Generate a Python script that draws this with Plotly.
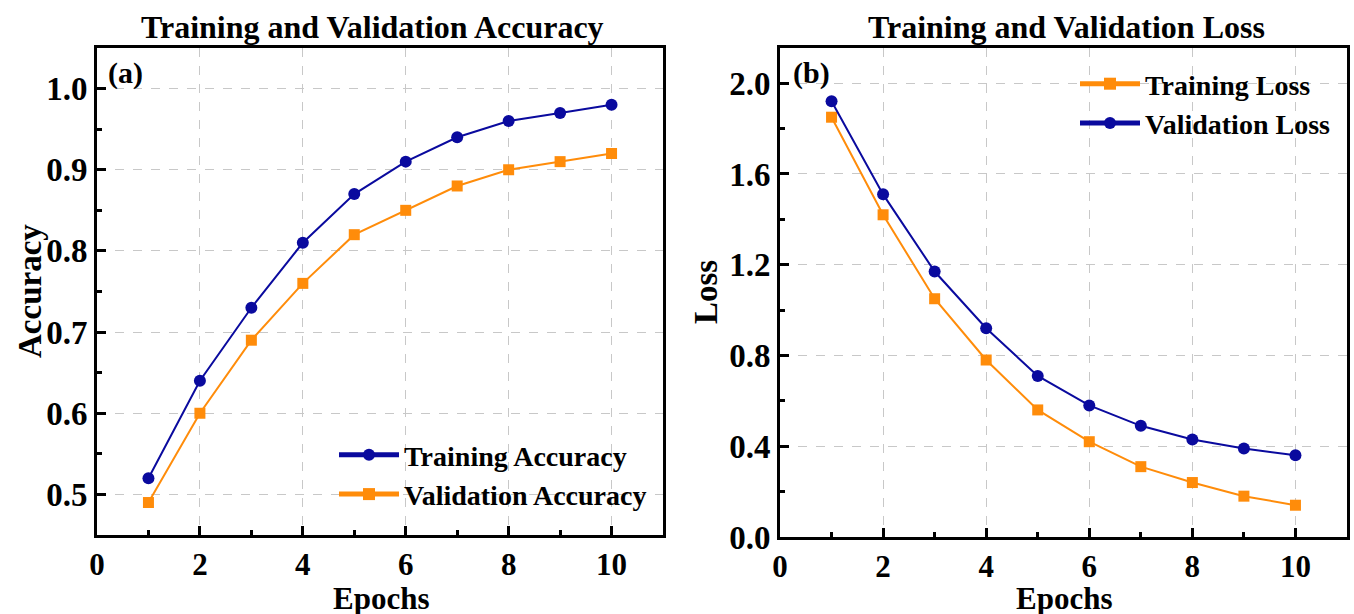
import plotly.graph_objects as go

epochs = [1, 2, 3, 4, 5, 6, 7, 8, 9, 10]
train_acc = [0.52, 0.64, 0.73, 0.81, 0.87, 0.91, 0.94, 0.96, 0.97, 0.98]
val_acc = [0.49, 0.60, 0.69, 0.76, 0.82, 0.85, 0.88, 0.90, 0.91, 0.92]
train_loss = [1.85, 1.42, 1.05, 0.78, 0.56, 0.42, 0.31, 0.24, 0.18, 0.14]
val_loss = [1.92, 1.51, 1.17, 0.92, 0.71, 0.58, 0.49, 0.43, 0.39, 0.36]

BLUE = "#0A0A9E"
ORANGE = "#FF8C0A"
FONT = "Liberation Serif"

fig = go.Figure()
fig.add_trace(go.Scatter(x=epochs, y=train_acc, name="Training Accuracy", mode="lines+markers",
                         line=dict(color=BLUE, width=2), marker=dict(symbol="circle", size=12, color=BLUE),
                         xaxis="x", yaxis="y", legend="legend"))
fig.add_trace(go.Scatter(x=epochs, y=val_acc, name="Validation Accuracy", mode="lines+markers",
                         line=dict(color=ORANGE, width=2), marker=dict(symbol="square", size=11, color=ORANGE),
                         xaxis="x", yaxis="y", legend="legend"))
fig.add_trace(go.Scatter(x=epochs, y=train_loss, name="Training Loss", mode="lines+markers",
                         line=dict(color=ORANGE, width=2), marker=dict(symbol="square", size=11, color=ORANGE),
                         xaxis="x2", yaxis="y2", legend="legend2"))
fig.add_trace(go.Scatter(x=epochs, y=val_loss, name="Validation Loss", mode="lines+markers",
                         line=dict(color=BLUE, width=2), marker=dict(symbol="circle", size=12, color=BLUE),
                         xaxis="x2", yaxis="y2", legend="legend2"))

# page body margin is removed below, so figure pixels == page pixels
W, H = 1354, 614
def px(xp):
    return min(1.0, max(0.0, xp / W))
def py(yp):
    return min(1.0, max(0.0, 1 - yp / H))

axis_common = dict(
    showline=True, linecolor="black", linewidth=3, mirror=True,
    ticks="inside", ticklen=9, tickwidth=3, tickcolor="black",
    showgrid=True, gridcolor="#C8C8C8", griddash="dash", gridwidth=1.2,
    zeroline=False, automargin=False,
    tickfont=dict(family=FONT, size=33, color="black", weight="bold"),
)
minor_x = dict(ticks="inside", ticklen=5, tickwidth=2.5, tickcolor="black", dtick=1, showgrid=False)
xtickfont = dict(family=FONT, size=31, color="black", weight="bold")

def ann(text, x, y, size=33, angle=0, xanchor="center"):
    return dict(text=text, x=px(x), y=py(y), xref="paper", yref="paper", showarrow=False,
                xanchor=xanchor, yanchor="middle", textangle=angle,
                font=dict(family=FONT, size=size, color="black", weight="bold"))

xcommon = {k: v for k, v in axis_common.items() if k != "tickfont"}

fig.update_layout(
    width=W, height=H,
    margin=dict(l=0, r=0, t=0, b=0, autoexpand=False),
    plot_bgcolor="white", paper_bgcolor="white",
    showlegend=True,
    xaxis=dict(domain=[px(97), px(663)], range=[0, 11], dtick=2, tick0=0, anchor="y",
               minor=minor_x, tickfont=xtickfont, **xcommon),
    yaxis=dict(domain=[py(535), py(48)], range=[0.45, 1.05], dtick=0.1, tick0=0.5, tickformat=".1f", anchor="x",
               minor=dict(ticks="inside", ticklen=5, tickwidth=2.5, tickcolor="black", dtick=0.05, showgrid=False),
               **axis_common),
    xaxis2=dict(domain=[px(780), px(1347)], range=[0, 11], dtick=2, tick0=0, anchor="y2",
                minor=minor_x, tickfont=xtickfont, **xcommon),
    yaxis2=dict(domain=[py(537), py(48)], range=[0, 2.155], dtick=0.4, tick0=0, tickformat=".1f", anchor="x2",
                minor=dict(ticks="inside", ticklen=5, tickwidth=2.5, tickcolor="black", dtick=0.2, showgrid=False),
                **axis_common),
    legend=dict(x=px(334), y=py(430), xanchor="left", yanchor="top", bgcolor="rgba(0,0,0,0)",
                font=dict(family=FONT, size=28, color="black", weight="bold"), tracegroupgap=0,
                itemsizing="constant", itemwidth=60),
    legend2=dict(x=px(1075), y=py(59), xanchor="left", yanchor="top", bgcolor="rgba(0,0,0,0)",
                 font=dict(family=FONT, size=28, color="black", weight="bold"), tracegroupgap=0,
                 itemsizing="constant", itemwidth=60),
    annotations=[
        ann("Training and Validation Accuracy", 372, 27, size=32),
        ann("Training and Validation Loss", 1066, 27, size=32),
        ann("(a)", 106, 73, size=30, xanchor="left"),
        ann("(b)", 791, 73, size=30, xanchor="left"),
        ann("Epochs", 381, 598, size=31),
        ann("Epochs", 1064, 598, size=31),
        ann("Accuracy", 30, 291, angle=-90),
        ann("Loss", 706, 292, angle=-90),
    ],
)

fig.write_html("out.html", config={"displayModeBar": False},
               post_script="document.body.style.margin='0px';document.body.style.overflow='hidden';")
